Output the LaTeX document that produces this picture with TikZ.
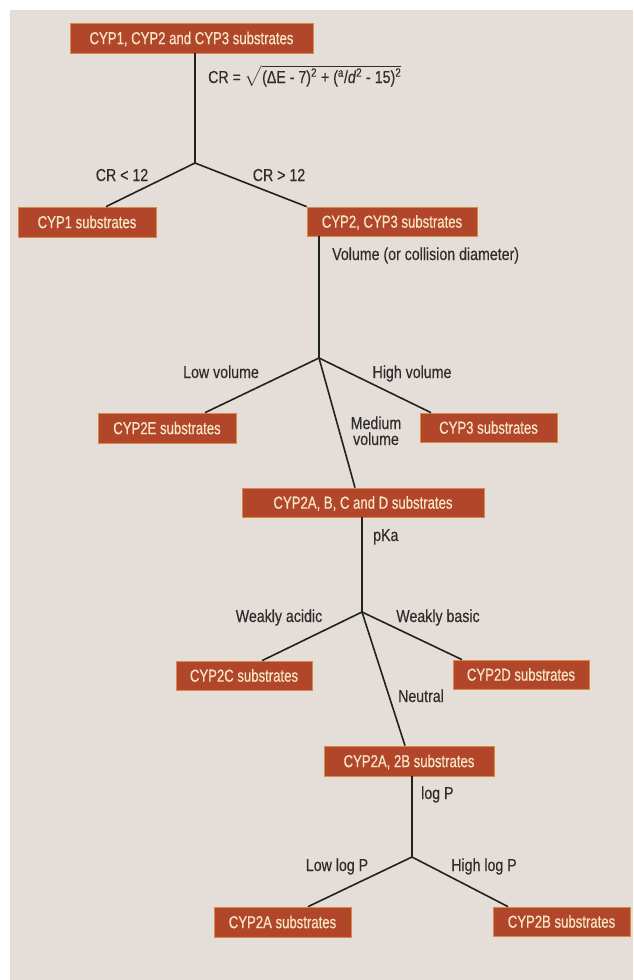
\documentclass[tikz,border=0pt]{standalone}
\usepackage{fontspec}
\usepackage{amsmath}
\newfontfamily\boxfont[FakeStretch=0.76,FakeBold=0.5]{Liberation Sans}
\newfontfamily\labfont[FakeStretch=0.82,FakeBold=0.3]{Liberation Sans}
\definecolor{boxred}{RGB}{178,70,42}
\definecolor{boxedge}{RGB}{214,140,70}
\definecolor{boxtext}{RGB}{246,230,200}
\definecolor{bgbeige}{RGB}{229,221,215}
\definecolor{linecol}{RGB}{30,35,32}
\definecolor{labgray}{RGB}{45,45,45}
\tikzset{
  cypbox/.style={fill=boxred, draw=boxedge, line width=0.7pt, text=boxtext,
    font=\boxfont\fontsize{17.3}{19}\selectfont, inner sep=0pt,
    minimum height=30pt, text height=12.3pt, text depth=0pt},
  lab/.style={text=labgray, font=\labfont\fontsize{17.3}{19}\selectfont, inner sep=0pt},
  conn/.style={draw=linecol, line width=1.6pt},
}
\begin{document}
\begin{tikzpicture}[x=1pt,y=-1pt]
\useasboundingbox (0,0) rectangle (633,980);
\fill[white] (0,0) rectangle (633,980);
\fill[bgbeige] (10,10) rectangle (633,980);

% boxes
\node[cypbox, minimum width=243pt] (top) at (191.5,38) {CYP1, CYP2 and CYP3 substrates};
\node[cypbox, minimum width=138pt] (cyp1) at (87,222) {CYP1 substrates};
\node[cypbox, minimum width=170pt, minimum height=29pt] (cyp23) at (392,221.5) {CYP2, CYP3 substrates};
\node[cypbox, minimum width=138pt] (cyp2e) at (167,428) {CYP2E substrates};
\node[cypbox, minimum width=137pt, minimum height=29pt] (cyp3) at (488.5,427.5) {CYP3 substrates};
\node[cypbox, minimum width=242pt, minimum height=29pt] (abcd) at (363,502.5) {CYP2A, B, C and D substrates};
\node[cypbox, minimum width=136pt, minimum height=29pt] (cyp2c) at (244,675.5) {CYP2C substrates};
\node[cypbox, minimum width=136pt, minimum height=29pt] (cyp2d) at (521,674.5) {CYP2D substrates};
\node[cypbox, minimum width=170pt] (ab) at (409,761) {CYP2A, 2B substrates};
\node[cypbox, minimum width=137pt] (cyp2a) at (282.5,922) {CYP2A substrates};
\node[cypbox, minimum width=137pt, minimum height=29pt] (cyp2b) at (561.5,921.5) {CYP2B substrates};

% junctions
\coordinate (j1) at (195,163);
\coordinate (j2) at (319,358);
\coordinate (j3) at (362,612);
\coordinate (j4) at (412,857);

% connectors
\draw[conn] ([xshift=3.5pt]top.south) -- (j1);
\draw[conn] (j1) -- ([xshift=19pt]cyp1.north);
\draw[conn] (j1) -- (cyp23.north west);
\draw[conn] ([xshift=-73pt]cyp23.south) -- (j2);
\draw[conn] (j2) -- ([xshift=38pt]cyp2e.north);
\draw[conn] (j2) -- ([xshift=-57.5pt]cyp3.north);
\draw[conn] (j2) -- ([xshift=-8pt]abcd.north);
\draw[conn] ([xshift=-1pt]abcd.south) -- (j3);
\draw[conn] (j3) -- ([xshift=18pt]cyp2c.north);
\draw[conn] (j3) -- ([xshift=-59pt]cyp2d.north);
\draw[conn] (j3) -- ([xshift=-4pt]ab.north);
\draw[conn] ([xshift=3pt]ab.south) -- (j4);
\draw[conn] (j4) -- ([xshift=25.5pt]cyp2a.north);
\draw[conn] (j4) -- ([xshift=-53.5pt]cyp2b.north);

% labels
\node[lab, anchor=base west] (formula) at (208,83)
  {CR = $\sqrt{\text{(ΔE - 7)\textsuperscript{2} + (\textsuperscript{a}/\textit{d}\textsuperscript{2} - 15)\textsuperscript{2}}}$};
\node[lab, anchor=base] (crlt) at (122,181) {CR < 12};
\node[lab, anchor=base] (crgt) at (279,181) {CR > 12};
\node[lab, anchor=base west] (vol) at (332,260) {Volume (or collision diameter)};
\node[lab, anchor=base] (lowvol) at (221,378) {Low volume};
\node[lab, anchor=base] (highvol) at (412,378) {High volume};
\node[lab, anchor=base] (med1) at (376,429) {Medium};
\node[lab, anchor=base] (med2) at (376,445) {volume};
\node[lab, anchor=base west] (pka) at (373,541) {pKa};
\node[lab, anchor=base] (acid) at (279,622) {Weakly acidic};
\node[lab, anchor=base] (basic) at (438,622) {Weakly basic};
\node[lab, anchor=base] (neutral) at (421,702) {Neutral};
\node[lab, anchor=base west] (logp) at (421,799) {log P};
\node[lab, anchor=base] (lowp) at (337,871) {Low log P};
\node[lab, anchor=base] (highp) at (484,871) {High log P};
\end{tikzpicture}
\end{document}
